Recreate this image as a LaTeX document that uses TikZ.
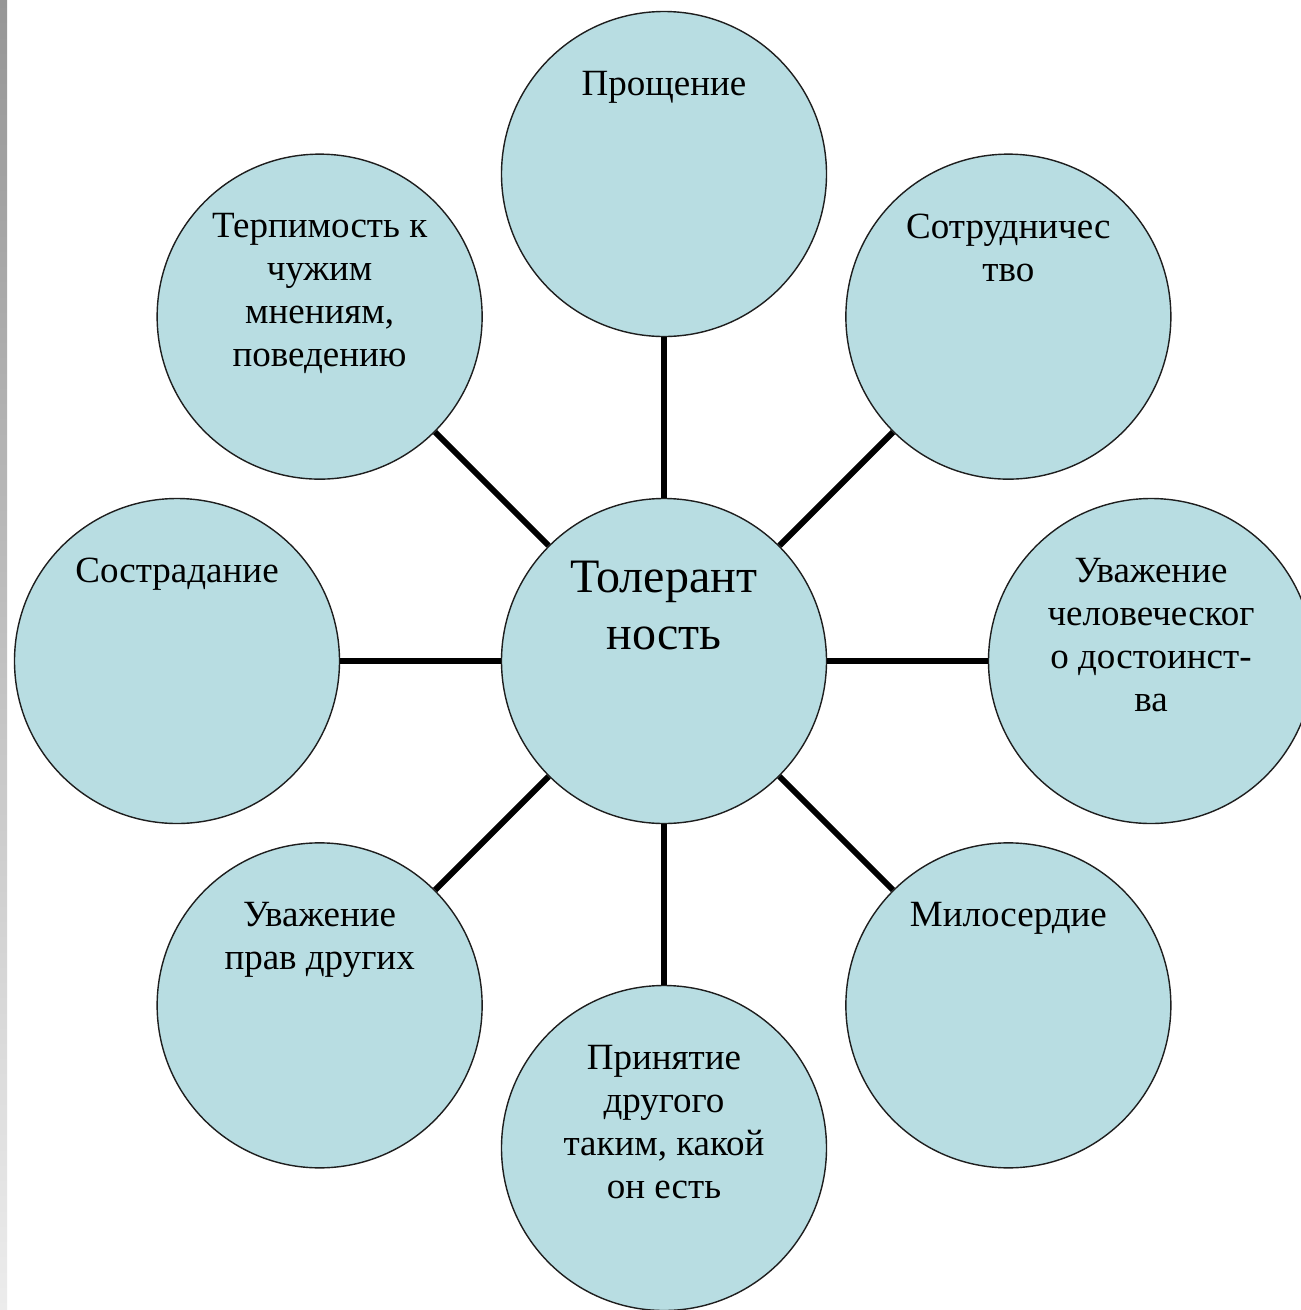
\documentclass[tikz,border=0pt]{standalone}
\usepackage{fontspec}
\setmainfont{Liberation Serif}
\usetikzlibrary{trees}

\definecolor{bubblefill}{RGB}{184,221,226}
\definecolor{bubbleline}{RGB}{30,30,30}
\definecolor{bartop}{RGB}{150,150,150}
\definecolor{barbottom}{RGB}{236,236,236}

\begin{document}
\begin{tikzpicture}[x=1pt, y=1pt]
            \tikzstyle{level 1}=[level distance=487pt, sibling distance=0pt]
            \tikzstyle{bubble} = [circle, draw=bubbleline, line width=1.4pt, fill=bubblefill, minimum size=325pt, inner sep=0pt]
            \tikzstyle{word} = [inner sep=0pt, align=center, anchor=north, yshift=-60pt, font=\fontsize{37}{43}\selectfont]
            \tikzstyle{bigword} = [word, yshift=-3pt, font=\fontsize{48}{57}\selectfont]
            \tikzstyle{edge from parent} = [draw, black, line width=6pt]

            \useasboundingbox[fill=white] (0,0) rectangle (1301,-1310);
            \shade[top color=bartop, bottom color=barbottom] (0,0) rectangle (7,-1310);

            \node [bubble, label={[bigword]north:{Толерант\\ность}}] (tol) at (664,-661) {}
            child [grow=90] {
                    node [bubble, label={[word]north:{Прощение}}] (forgive) {}
                }
            child [grow=45] {
                    node [bubble, label={[word]north:{Сотрудничес\\тво}}] (coop) {}
                }
            child [grow=0] {
                    node [bubble, label={[word]north:{Уважение\\человеческог\\о достоинст-\\ва}}] (dignity) {}
                }
            child [grow=-45] {
                    node [bubble, label={[word]north:{Милосердие}}] (mercy) {}
                }
            child [grow=-90] {
                    node [bubble, label={[word]north:{Принятие\\другого\\таким, какой\\он есть}}] (accept) {}
                }
            child [grow=-135] {
                    node [bubble, label={[word]north:{Уважение\\прав других}}] (rights) {}
                }
            child [grow=180] {
                    node [bubble, label={[word]north:{Сострадание}}] (compassion) {}
                }
            child [grow=135] {
                    node [bubble, label={[word]north:{Терпимость к\\чужим\\мнениям,\\поведению}}] (patience) {}
                };
        \end{tikzpicture}
\end{document}
